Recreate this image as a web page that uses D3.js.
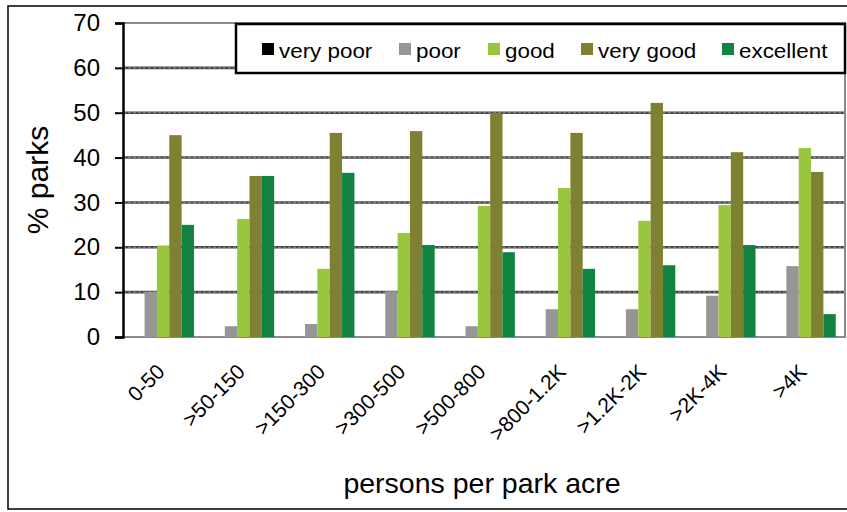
<!DOCTYPE html>
<html><head><meta charset="utf-8">
<script src="https://cdn.jsdelivr.net/npm/d3@7"></script>
<style>body{margin:0;background:#fff}svg{display:block;font-family:Arial,"Liberation Sans",sans-serif}</style>
</head><body><svg id="c" width="847" height="512"></svg>
<script>
const categories = ["0-50", ">50-150", ">150-300", ">300-500", ">500-800", ">800-1.2K", ">1.2K-2K", ">2K-4K", ">4K"];
const seriesNames = ["very poor", "poor", "good", "very good", "excellent"];
const veryPoor  = [0, 0, 0, 0, 0, 0, 0, 0, 0];
const poor      = [10.1, 2.4, 2.9, 10.2, 2.4, 6.2, 6.2, 9.2, 15.8];
const good      = [20.4, 26.3, 15.2, 23.2, 29.2, 33.2, 25.9, 29.4, 42.1];
const veryGood  = [45.0, 35.9, 45.5, 45.9, 49.9, 45.5, 52.2, 41.2, 36.8];
const excellent = [25.0, 35.9, 36.6, 20.5, 18.9, 15.2, 16.0, 20.5, 5.1];
const yTicks = [0, 10, 20, 30, 40, 50, 60, 70];
const colors = ["#000000", "#969696", "#99c63c", "#808033", "#108340"];
const series = [veryPoor, poor, good, veryGood, excellent];

const svg = d3.select("#c");
const L = 123, R = 845, T = 23, B = 337;
const FONT = "Arial, Liberation Sans, sans-serif";

// outer frame
svg.append("rect").attr("x", 8).attr("y", 6).attr("width", 850).attr("height", 503)
  .attr("fill", "none").attr("stroke", "#000").attr("stroke-width", 1.5);

const x = d3.scaleBand().domain(categories).range([L, R]).paddingInner(1.5/6.5).paddingOuter(0.75/6.5);
const xs = d3.scaleBand().domain(seriesNames).range([0, x.bandwidth()]);
const y = d3.scaleLinear().domain([0, 70]).range([B, T]);

// gridlines
const grid = yTicks.filter(t => t > 0 && t < 70);
svg.append("g").selectAll("line").data(grid).join("line")
  .attr("x1", L).attr("x2", R).attr("y1", d => y(d)).attr("y2", d => y(d))
  .attr("stroke", "#454545").attr("stroke-width", 2.6);
svg.append("g").selectAll("line").data(grid).join("line")
  .attr("x1", L).attr("x2", R).attr("y1", d => y(d)).attr("y2", d => y(d))
  .attr("stroke", "#a0a0a0").attr("stroke-width", 0.8).attr("stroke-dasharray", "3,2");
// plot border (top/right/bottom) gray
svg.append("path").attr("d", `M${L},${y(70)}H${R}V${y(0)}H${L}`)
  .attr("fill", "none").attr("stroke", "#8a8a8a").attr("stroke-width", 2);

// bars
const g = svg.append("g");
series.forEach((vals, si) => {
  g.append("g").selectAll("rect").data(vals).join("rect")
    .attr("x", (d, i) => x(categories[i]) + xs(seriesNames[si]))
    .attr("width", xs.bandwidth())
    .attr("y", d => y(d))
    .attr("height", d => y(0) - y(d))
    .attr("fill", colors[si]);
});

// y axis
const yAxis = svg.append("g").attr("transform", `translate(${L},0)`)
  .call(d3.axisLeft(y).tickValues(yTicks).tickSize(8).tickPadding(15).tickFormat(d3.format("d")));
yAxis.select(".domain").attr("stroke", "#000").attr("stroke-width", 2.5);
yAxis.selectAll(".tick line").attr("stroke", "#000").attr("stroke-width", 2);
yAxis.selectAll("text").attr("font-size", 24).attr("fill", "#000").attr("font-family", FONT);

// x axis labels
const xAxis = svg.append("g").attr("transform", `translate(0,${B})`)
  .call(d3.axisBottom(x).tickSize(0).tickPadding(0));
xAxis.select(".domain").remove();
xAxis.selectAll(".tick text")
  .attr("font-size", 21).attr("fill", "#000").attr("font-family", FONT)
  .attr("text-anchor", "end").attr("dy", null)
  .attr("transform", "translate(3,36) rotate(-45)");

// axis titles
svg.append("text").attr("transform", "translate(48,180) rotate(-90)")
  .attr("text-anchor", "middle").attr("font-size", 30).text("% parks");
svg.append("text").attr("x", 482).attr("y", 493).attr("text-anchor", "middle")
  .attr("font-size", 28.5).text("persons per park acre");

// legend
const lg = svg.append("g");
lg.append("rect").attr("x", 236).attr("y", 24).attr("width", 609).attr("height", 49)
  .attr("fill", "#fff").attr("stroke", "#000").attr("stroke-width", 2.5);
const legX = [262, 399, 488, 581, 722];
seriesNames.forEach((n, i) => {
  lg.append("rect").attr("x", legX[i]).attr("y", 43).attr("width", 12).attr("height", 12).attr("fill", colors[i]);
  const tx = legX[i] + 17;
  lg.append("text").attr("x", tx).attr("y", 58).attr("font-size", 20)
    .attr("transform", `translate(${tx},0) scale(1.12,1) translate(${-tx},0)`).text(n);
});
</script></body></html>
